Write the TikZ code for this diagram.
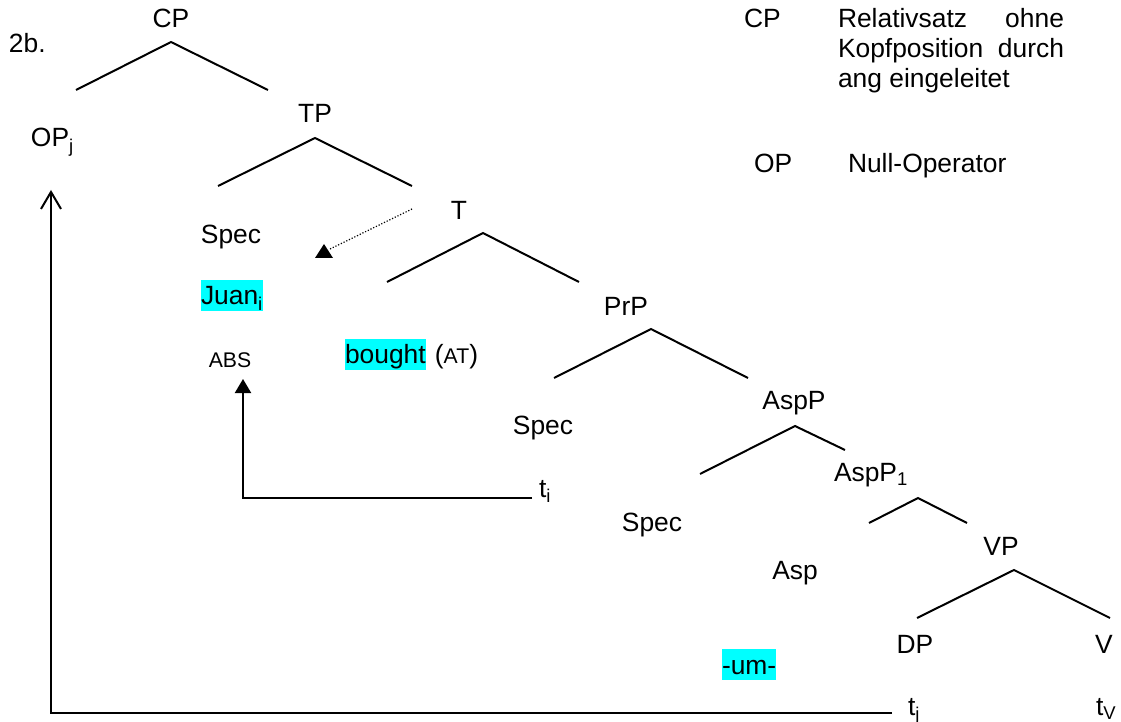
\documentclass[tikz,border=0pt]{standalone}
\usepackage{fontspec}
\setmainfont{Liberation Sans}
\usetikzlibrary{arrows.meta}

\definecolor{hlcyan}{RGB}{0,255,255}

\tikzset{
	lbl/.style = {inner sep=0pt, anchor=base, font=\fontsize{13.2}{15}\selectfont},
	lblw/.style = {lbl, anchor=base west},
	sm/.style = {lbl, font=\fontsize{10.6}{12}\selectfont},
	hl/.style = {lblw, fill=hlcyan, text height=12.3pt, text depth=3.2pt},
}

\begin{document}
\begin{tikzpicture}[x=0.5pt, y=-0.5pt, line width = 1.0pt]
			
			\useasboundingbox (0,0) rectangle (1121,722);
			
			% tree
			\node[lblw] (nr) at (8,53) {2b.};
			\node[lbl] (cp) at (171,28) {CP};
			\draw (76,90) -- (171,42) -- (268,90);
			\node[lblw] (opj) at (30,147) {OP\textsubscript{j}};
			\node[lbl] (tp) at (315,123) {TP};
			\draw (218,186) -- (315,138) -- (412,186);
			\node[lbl] (spec1) at (231,243) {Spec};
			\node[lbl] (t) at (459,220) {T};
			\draw (387,282) -- (483,233) -- (579,282);
			\node[hl] (juan) at (200,305) {Juan\textsubscript{i}};
			\node[sm] (abs) at (230,367) {ABS};
			\node[hl] (bought) at (344,364) {bought};
			\node[lblw] (at) at ([xshift=3.6pt]bought.base east) {({\fontsize{10.6}{12}\selectfont AT})};
			\node[lbl] (prp) at (626,315) {PrP};
			\draw (554,378) -- (651,329) -- (748,378);
			\node[lbl] (spec2) at (543,434) {Spec};
			\node[lbl] (aspp) at (794,409) {AspP};
			\draw (700,474) -- (795,426) -- (845,450);
			\node[lblw] (ti) at (538,497) {t\textsubscript{i}};
			\node[lblw] (aspp1) at (833,481) {AspP\textsubscript{1}};
			\draw (869,523) -- (918,498) -- (967,523);
			\node[lbl] (spec3) at (652,531) {Spec};
			\node[lbl] (vp) at (1001,555) {VP};
			\draw (917,618) -- (1014,570) -- (1110,618);
			\node[lbl] (asp) at (795,579) {Asp};
			\node[lbl] (dp) at (915,653) {DP};
			\node[lbl] (v) at (1104,653) {V};
			\node[hl] (um) at (721,674) {-um-};
			\node[lblw] (tj) at (907,715) {t\textsubscript{j}};
			\node[lblw] (tv) at (1095,715) {t\textsubscript{V}};
			
			% movement
			\coordinate (jend) at (892,713);
			\coordinate (optip) at (51,190);
			\draw[-{Straight Barb[length=8.5pt, width=10pt]}] (jend) -| (optip);
			\coordinate (iend) at (532,498);
			\coordinate (abstip) at (243,379);
			\draw[-{Triangle[length=7pt, width=8pt]}] (iend) -| (abstip);
			\coordinate (tstart) at (412,209);
			\coordinate (spectip) at (330,249);
			\draw[line width=0.6pt, dash pattern=on 0.6pt off 0.9pt] (tstart) -- (spectip);
			\fill (315,258) -- (324,244) -- (333,258) -- cycle;
			
			% legend
			\node[lblw] (cpkey) at (743,28) {CP};
			\node[lblw] (rel1) at (837,28) {\makebox[113pt][s]{Relativsatz ohne}};
			\node[lblw] (rel2) at (837,58) {\makebox[113pt][s]{Kopfposition durch}};
			\node[lblw] (rel3) at (837,88) {ang eingeleitet};
			\node[lblw] (opkey) at (753,173) {OP};
			\node[lblw] (null) at (847,173) {Null-Operator};
			
	\end{tikzpicture}
\end{document}
